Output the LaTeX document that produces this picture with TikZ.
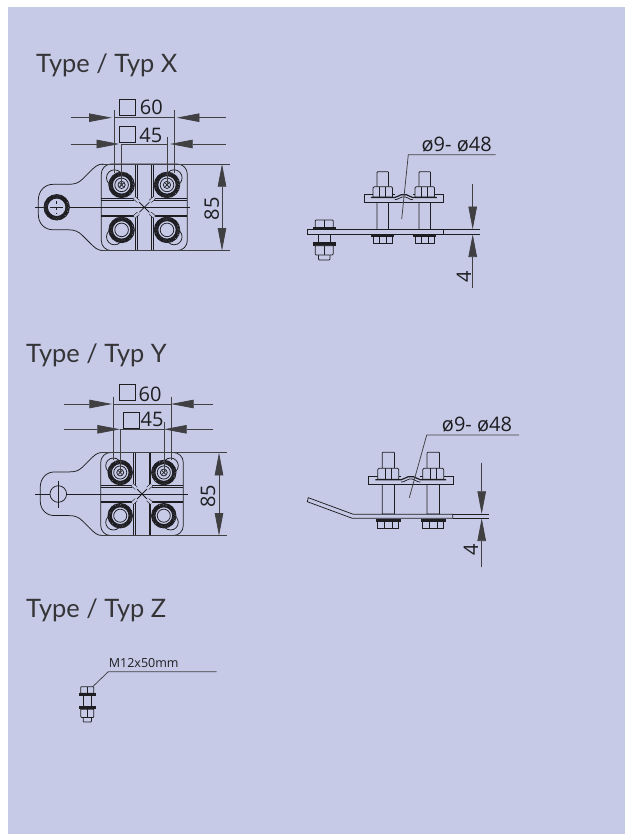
\documentclass[tikz,border=0pt]{standalone}
\usepackage{fontspec}
\setmainfont{Open Sans}
\newfontfamily\headfont{Lato}
\usepackage{tikz}
\usetikzlibrary{arrows.meta}
\usetikzlibrary{positioning}
\definecolor{panel}{HTML}{C6CAE6}
\definecolor{ink}{HTML}{1E1E22}
%plate seen from above
\newcommand{\knurl}[2]{%
\fill[panel] (#1,#2) circle (12.8);
\draw[line width=3.6pt,dash pattern=on 1.1pt off 0.35pt] (#1,#2) circle (10.9);
\draw[part] (#1,#2) circle (12.8);
\draw[part] (#1,#2) circle (9.2);
\draw[part] (#1,#2) circle (6.8);
}
\newcommand{\platetop}{%
\draw[part] (-43,-43.3) [rounded corners=10pt] -- (43,-43.3) -- (43,43.3) -- (-43,43.3) -- cycle;
\draw[part] (-41,-43.3) .. controls (-47,-43.3) and (-50,-40) .. (-55,-35) -- (-62,-28) .. controls (-66,-24) and (-70,-23) .. (-76,-23) -- (-91,-23) .. controls (-100,-23) and (-106,-16) .. (-106,-7) -- (-106,7) .. controls (-106,16) and (-100,22.5) .. (-91,22.5) -- (-76,22.5) .. controls (-70,22.5) and (-66,24) .. (-62,28) -- (-55,35) .. controls (-50,40) and (-47,43.3) .. (-41,43.3);
\foreach \xa in {-9.3,-7,7.3,9}{
\draw[part] (\xa,-43.3) -- (\xa,-9);
\draw[part] (\xa,8.7) -- (\xa,43.3);
}
\foreach \ya in {-9,-7.3,7.7,8.7}{
\draw[part] (-43,\ya) -- (-10,\ya);
\draw[part] (10,\ya) -- (43,\ya);
}
\foreach \xa/\ya in {-1/-1,1/-1,-1/1,1/1}{
\draw[part] (0,0) -- (5*\xa,5*\ya);
\draw[line width=0.6pt,double=panel,double distance=2.4pt] (6*\xa,6*\ya) -- (10*\xa,9.5*\ya);
\draw[part] (-29.8*\xa/\xa*\xa,29.5*\ya) circle (8);
}
\knurl{-22.7}{-22.4}
\knurl{22.7}{-22.4}
\knurl{-22.7}{22.6}
\knurl{22.7}{22.6}
\foreach \xa in {-22.7,22.7}{
\draw[part] (\xa,-22.4) circle (3.6);
\draw[part] (\xa-2,-24.4) -- (\xa+2,-20.4);
\draw[part] (\xa-2,-20.4) -- (\xa+2,-24.4);
}
}
%clamp seen from the side
\newcommand{\clampside}{%
\foreach \xa in {-21,21}{
\draw[part,fill=panel] (\xa-5.8,-26) -- (\xa-5,-26.8) -- (\xa+5,-26.8) -- (\xa+5.8,-26) -- (\xa+5.8,31) -- (\xa-5.8,31) -- cycle;
\draw[part,fill=panel] (\xa-9.8,36) rectangle (\xa+9.8,44.8);
\draw[part] (\xa-3.5,38) -- (\xa-3.5,44.8);
\draw[part] (\xa+3.5,38) -- (\xa+3.5,44.8);
\fill (\xa-11.6,35.5) rectangle (\xa+11.6,38.4);
}
\draw[part,fill=panel] (-39.8,-3.8) rectangle (39.6,3.8);
\fill[panel] (-9,-4.2) rectangle (9,-3.4);
\foreach \xa in {-21,21}{
\draw[part,fill=panel] (\xa-9.8,-10.5) -- (\xa-8.6,-11.8) -- (\xa+8.6,-11.8) -- (\xa+9.8,-10.5) -- (\xa+9.8,-1.5) -- (\xa-9.8,-1.5) -- cycle;
\draw[part] (\xa-3,-11.8) -- (\xa-3,-1.5);
\draw[part] (\xa+3,-11.8) -- (\xa+3,-1.5);
}
\draw[line width=1.2pt] (-33,-1) -- (-9,-1) .. controls (-6,-1) and (-5,-3.8) .. (-2.5,-3.8) -- (2.5,-3.8) .. controls (5,-3.8) and (6,-1) .. (9,-1) -- (33,-1);
\draw[part] (-9,1.2) .. controls (-5,1.2) and (-4,-1.6) .. (-1.5,-1.6) -- (1.5,-1.6) .. controls (4,-1.6) and (5,1.2) .. (9,1.2);
}
%loose bolt
\newcommand{\loosebolt}{%
\draw[part,fill=panel] (-5.8,10) rectangle (5.8,23);
\draw[part,fill=panel] (-9,0.7) -- (-8,0) -- (8,0) -- (9,0.7) -- (9,7.5) -- (-9,7.5) -- cycle;
\draw[part] (0,0) -- (0,7.5);
\fill (-11.6,7.3) rectangle (11.6,10.4);
\fill (-11.6,22.3) rectangle (11.6,25.7);
\draw[part,fill=panel] (-5.8,35) -- (-5.8,39) -- (-5,40) -- (5,40) -- (5.8,39) -- (5.8,35);
\draw[part,fill=panel] (-9,25.7) -- (9,25.7) -- (9,34) -- (8,35) -- (-8,35) -- (-9,34) -- cycle;
\draw[part] (0,25.7) -- (0,35);
}
\begin{document}
\begin{tikzpicture}[x=1pt,y=-1pt,color=ink]
\tikzstyle{part}=[line width=0.75pt,draw=ink]
\tikzstyle{dimline}=[line width=0.75pt,draw=ink!85]
\tikzstyle{dimarrow}=[line width=0.75pt,draw=ink!85,-{Triangle[length=22.7pt,width=8.5pt]}]
\tikzstyle{head}=[anchor=west,inner sep=0pt,text=ink!90,font=\headfont\fontsize{25.4}{30}\selectfont]
\tikzstyle{dimtext}=[inner sep=0pt,text=ink,font=\fontsize{20}{24}\selectfont]
\tikzstyle{sq}=[draw=ink,line width=0.75pt,inner sep=0pt,minimum size=16pt]
\useasboundingbox (0,0) rectangle (625,834);
\fill[white] (0,0) rectangle (625,834);
\fill[panel] (8,7) rectangle (625,834);
%titres
\node[head] (typex) at (36,65) {Type / Typ X};
\node[head] (typey) at (26,355) {Type / Typ Y};
\node[head] (typez) at (26,610) {Type / Typ Z};
%plate X
\begin{scope}[shift={(144.3,207.3)}]
\platetop
\end{scope}
\draw[part] (35,207.3) -- (190,207.3);
\fill[panel] (56.7,207.3) circle (12.8);
\draw[line width=3.6pt,dash pattern=on 1.1pt off 0.35pt] (56.7,207.3) circle (10.9);
\draw[part] (56.7,207.3) circle (12.8);
\draw[part] (56.7,207.3) circle (9.2);
\draw[part,dashed] (56.7,201) -- (56.7,213.6);
\draw[part] (50,207.3) -- (63,207.3);
%dimensions X
\draw[dimarrow] (70.7,117.7) -- (111.7,117.7);
\draw[dimarrow] (225.7,117.7) -- (176.7,117.7);
\draw[dimline] (114,117.7) -- (174.7,117.7);
\draw[dimline] (114,110) -- (114,173);
\draw[dimline] (174.7,110) -- (174.7,173);
\draw[dimarrow] (70.7,144) -- (119.3,144);
\draw[dimarrow] (225.7,144) -- (170,144);
\draw[dimline] (121,144) -- (167.3,144);
\draw[dimline] (121,144) -- (121,185);
\draw[dimline] (167.3,136.7) -- (167.3,185);
\node[sq] (sqx60) at (127.5,107.5) {};
\node[dimtext] (x60) at (151.3,107.7) {60};
\node[sq] (sqx45) at (127.5,134.5) {};
\node[dimtext] (x45) at (150.8,135) {45};
\draw[dimline] (100,164) -- (230,164);
\draw[dimline] (100,250.7) -- (230,250.7);
\draw[dimarrow] (222,207.3) -- (222,164);
\draw[dimarrow] (222,207.3) -- (222,250.7);
\node[dimtext,rotate=90] (x85) at (211.7,209) {85};
%side X
\begin{scope}[shift={(403.8,198.5)}]
\clampside
\end{scope}
\begin{scope}[shift={(324.2,220)}]
\loosebolt
\end{scope}
\draw[part,fill=panel] (307.3,229.3) rectangle (443.3,234.3);
\draw[part] (443.3,229.3) -- (480,229.3);
\draw[part] (443.3,234.3) -- (480,234.3);
\draw[dimline] (495.7,154.7) -- (408.3,154.7) -- (401.7,219);
\node[dimtext] (xdia) at (456.7,145) {ø9- ø48};
\draw[dimarrow] (472.7,184) -- (472.7,229.3);
\draw[dimarrow] (472.7,288.3) -- (472.7,234.3);
\node[dimtext,rotate=90] (x4) at (464,276.7) {4};
%plate Y
\begin{scope}[shift={(142,494)},scale=0.96]
\platetop
\end{scope}
\draw[part] (35,494) -- (188,494);
\fill[panel] (58.3,494) circle (8.3);
\draw[part] (58.3,494) circle (8.3);
\draw[part] (58.3,481) -- (58.3,507.7);
%dimensions Y
\draw[dimarrow] (64,404) -- (112,404);
\draw[dimarrow] (213,404) -- (171,404);
\draw[dimline] (113,404) -- (171,404);
\draw[dimline] (113,396.7) -- (113,460);
\draw[dimline] (171.3,396.7) -- (171.3,460);
\draw[dimarrow] (64,429.3) -- (120,429.3);
\draw[dimarrow] (213,429.3) -- (164,429.3);
\draw[dimline] (120,429.3) -- (164,429.3);
\draw[dimline] (120,429.3) -- (120,472);
\draw[dimline] (164,422) -- (164,472);
\node[sq] (sqy60) at (127,392.5) {};
\node[dimtext] (y60) at (150,394.5) {60};
\node[sq] (sqy45) at (131.3,420) {};
\node[dimtext] (y45) at (152,419.5) {45};
\draw[dimline] (100,452.7) -- (227,452.7);
\draw[dimline] (100,535.7) -- (227,535.7);
\draw[dimarrow] (219,494) -- (219,452.7);
\draw[dimarrow] (219,494) -- (219,535.7);
\node[dimtext,rotate=90] (y85) at (208,496) {85};
%side Y
\begin{scope}[shift={(410.8,480.8)},scale=1.07]
\clampside
\end{scope}
\draw[part,fill=panel] (308.3,497.7) -- (353.3,514.3) -- (452.7,514.3) -- (452.7,518.3) -- (352.3,518.3) -- (307.3,501.7) -- cycle;
\draw[part] (452.7,514.3) -- (489.3,514.3);
\draw[part] (452.7,518.3) -- (489.3,518.3);
\draw[dimline] (519,435) -- (426.7,435) -- (409.3,497.7);
\node[dimtext] (ydia) at (477,425) {ø9- ø48};
\draw[dimarrow] (481.7,462.7) -- (481.7,514);
\draw[dimarrow] (481.7,567.3) -- (481.7,518.3);
\node[dimtext,rotate=90] (y4) at (471,550) {4};
%bolt Z
\begin{scope}[shift={(87.3,686.7)},xscale=0.72,yscale=0.88]
\loosebolt
\end{scope}
\draw[dimline] (216.7,671.7) -- (108.3,671.7) -- (92.7,686.7);
\node[dimtext,font=\fontsize{12.5}{15}\selectfont] (zbolt) at (143.7,663.3) {M12x50mm};
\end{tikzpicture}
\end{document}
